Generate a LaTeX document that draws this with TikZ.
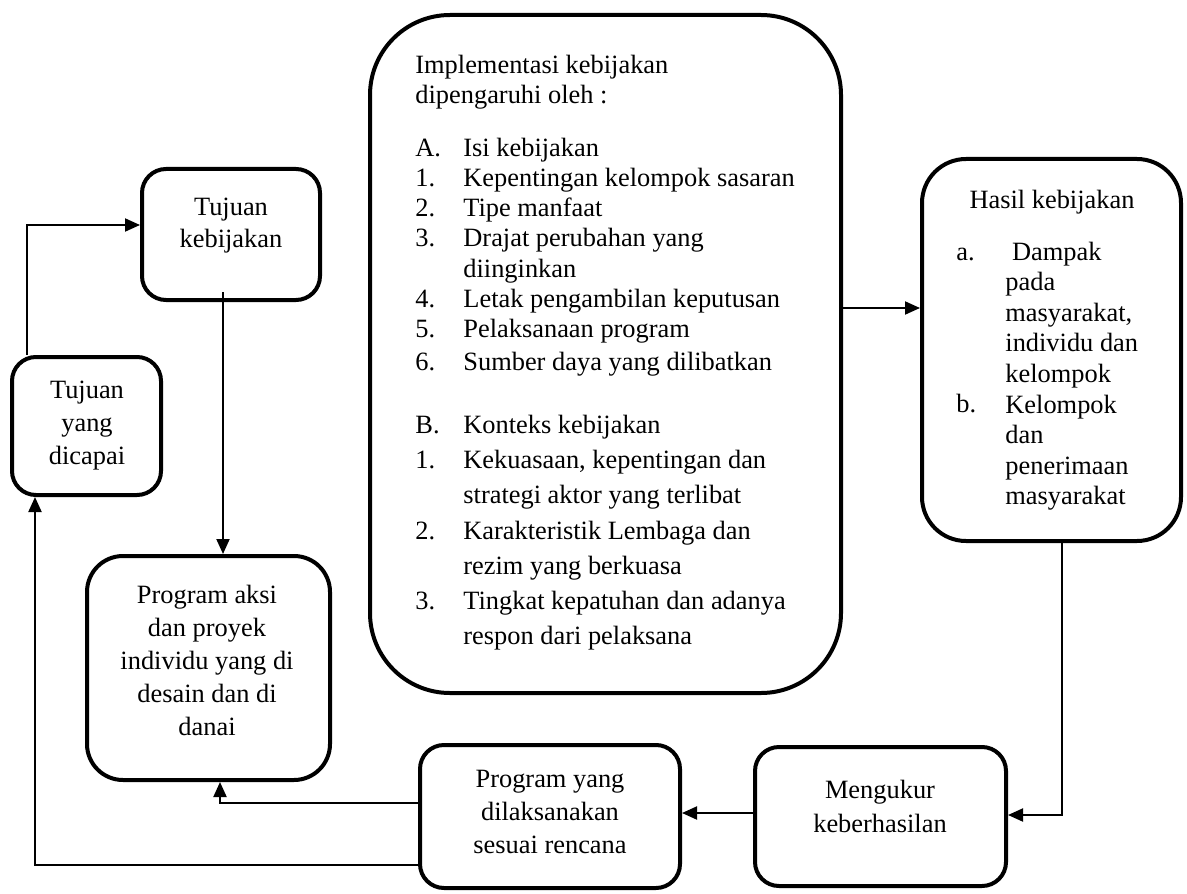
\documentclass[tikz,border=0pt]{standalone}
\usepackage{fontspec}
\setmainfont{Liberation Serif}
\usetikzlibrary{arrows.meta}
\begin{document}
\begin{tikzpicture}[x=0.5pt,y=-0.5pt,
  box/.style={draw,line width=2pt,inner sep=0pt,rounded corners=#1},
  box/.default=12pt,
  conn/.style={line width=1pt,-{Triangle[length=7.5pt,width=6.5pt]}},
  txt/.style={inner sep=0pt,font=\fontsize{13.2pt}{15pt}\selectfont},
  lbl/.style={txt,anchor=base west},
  ctr/.style={txt,anchor=base}]
\useasboundingbox (0,0) rectangle (1187,893);

% boxes
\node[box=12pt,minimum width=89pt,minimum height=65.5pt] (tk) at (231,234.5) {};
\node[box=12pt,minimum width=74.5pt,minimum height=69pt] (td) at (86.5,426) {};
\node[box=18pt,minimum width=121.5pt,minimum height=112pt] (pa) at (208.5,668) {};
\node[box=40pt,minimum width=235.5pt,minimum height=339pt] (big) at (605.5,354) {};
\node[box=22pt,minimum width=129.5pt,minimum height=191pt] (hasil) at (1051.5,350) {};
\node[box=12pt,minimum width=130pt,minimum height=71.5pt] (py) at (550,816.5) {};
\node[box=12pt,minimum width=125.5pt,minimum height=69.5pt] (mk) at (880.5,816.5) {};

% centred texts
\foreach \t [count=\i] in {Tujuan,kebijakan}
  \node[ctr] (tk-\i) at (231,{215+33*(\i-1)}) {\t};
\foreach \t [count=\i] in {Tujuan,yang,dicapai}
  \node[ctr] (td-\i) at (87,{398+33*(\i-1)}) {\t};
\foreach \t [count=\i] in {Program aksi,dan proyek,individu yang di,desain dan di,danai}
  \node[ctr] (pa-\i) at (207,{603+33*(\i-1)}) {\t};
\foreach \t [count=\i] in {Program yang,dilaksanakan,sesuai rencana}
  \node[ctr] (py-\i) at (550,{787+33*(\i-1)}) {\t};
\foreach \t [count=\i] in {Mengukur,keberhasilan}
  \node[ctr] (mk-\i) at (880,{798+34*(\i-1)}) {\t};

% big box text
\node[lbl] (h1) at (415,74) {Implementasi kebijakan};
\node[lbl] (h2) at (415,104) {dipengaruhi oleh :};
\foreach \y/\l/\t [count=\i] in {
  157/A./Isi kebijakan,
  187/1./Kepentingan kelompok sasaran,
  217/2./Tipe manfaat,
  247/3./Drajat perubahan yang,
  277//diinginkan,
  307/4./Letak pengambilan keputusan,
  337/5./Pelaksanaan program,
  370/6./Sumber daya yang dilibatkan,
  433/B./Konteks kebijakan,
  468/1./{Kekuasaan, kepentingan dan},
  503//strategi aktor yang terlibat,
  539/2./Karakteristik Lembaga dan,
  574//rezim yang berkuasa,
  609/3./Tingkat kepatuhan dan adanya,
  644//respon dari pelaksana}
{
  \node[lbl] (bl-\i) at (415,\y) {\l};
  \node[lbl] (bt-\i) at (463,\y) {\t};
}

% hasil text
\node[ctr] (hs-0) at (1052,208) {Hasil kebijakan};
\node[lbl] (hl-a) at (956,260) {a.};
\node[lbl] (hl-b) at (956,412) {b.};
\foreach \t [count=\i] in {~Dampak,pada,{masyarakat,},individu dan,kelompok,Kelompok,dan,penerimaan,masyarakat}
  \node[lbl] (hs-\i) at (1005,{260+30.6*(\i-1)}) {\t};

% connectors
\coordinate (c1) at (27,225);
\draw[conn] (td.north -| c1) |- (c1 -| tk.west);
\coordinate (c2) at (223,292);
\draw[conn] (c2) -- (c2 |- pa.north);
\coordinate (c3) at (850,308);
\draw[conn] (c3 -| big.east) -- (c3 -| hasil.west);
\coordinate (c4) at (1062,815);
\draw[conn] (hasil.south -| c4) |- (c4 -| mk.east);
\coordinate (c5) at (753,813);
\draw[conn] (c5 -| mk.west) -- (c5 -| py.east);
\coordinate (c6) at (220,803);
\draw[conn] (c6 -| py.west) -| (pa.south -| c6);
\coordinate (c7) at (35,865);
\draw[conn] (c7 -| py.west) -| (td.south -| c7);
\end{tikzpicture}
\end{document}
